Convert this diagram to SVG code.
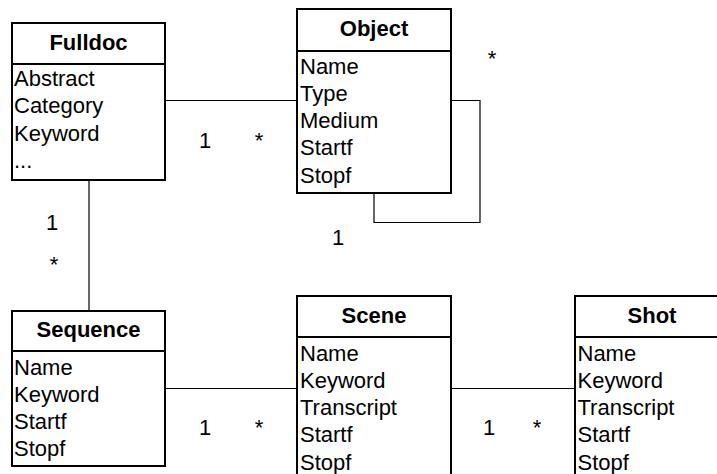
<svg xmlns="http://www.w3.org/2000/svg" width="717" height="474" viewBox="0 0 717 474">
  <style>
    .box { fill: #ffffff; stroke: #000000; stroke-width: 2; }
    .div { stroke: #000000; stroke-width: 2; }
    .title { font-family: "Liberation Sans", Arial, sans-serif; font-size: 22px; font-weight: bold; text-anchor: middle; fill: #000000; }
    .attr { font-family: "Liberation Sans", Arial, sans-serif; font-size: 22px; fill: #000000; }
    .mult { font-family: "Liberation Sans", Arial, sans-serif; font-size: 22px; fill: #000000; text-anchor: middle; }
    .conn { fill: none; stroke: #000000; stroke-width: 1.2; }
  </style>

  <rect width="717" height="474" fill="#ffffff"/>

  <!-- associations -->
  <g id="connectors">
    <line class="conn" x1="165" y1="100.5" x2="297" y2="100.5"/>
    <polyline class="conn" points="451,100.5 480,100.5 480,222.5 374,222.5 374,193"/>
    <line class="conn" x1="89" y1="180" x2="89" y2="311"/>
    <line class="conn" x1="165" y1="388.5" x2="297" y2="388.5"/>
    <line class="conn" x1="451" y1="388.5" x2="575" y2="388.5"/>

    <text class="mult" x="205" y="148">1</text>
    <text class="mult" x="259" y="148">*</text>
    <text class="mult" x="492" y="66">*</text>
    <text class="mult" x="338" y="245">1</text>
    <text class="mult" x="52" y="230">1</text>
    <text class="mult" x="54" y="272">*</text>
    <text class="mult" x="205" y="435">1</text>
    <text class="mult" x="259" y="435">*</text>
    <text class="mult" x="489" y="435">1</text>
    <text class="mult" x="537" y="435">*</text>
  </g>

  <g id="fulldoc">
    <rect class="box" x="12" y="23" width="153" height="157"/>
    <line class="div" x1="12" y1="64" x2="165" y2="64"/>
    <text class="title" x="88.5" y="50">Fulldoc</text>
    <text class="attr" x="14" y="86">Abstract</text>
    <text class="attr" x="14" y="113.3">Category</text>
    <text class="attr" x="14" y="140.6">Keyword</text>
    <text class="attr" x="14" y="168">...</text>
  </g>

  <g id="object">
    <rect class="box" x="297" y="9" width="154" height="184"/>
    <line class="div" x1="297" y1="51" x2="451" y2="51"/>
    <text class="title" x="374" y="36">Object</text>
    <text class="attr" x="300" y="73.5">Name</text>
    <text class="attr" x="300" y="100.8">Type</text>
    <text class="attr" x="300" y="128.1">Medium</text>
    <text class="attr" x="300" y="155.4">Startf</text>
    <text class="attr" x="300" y="182.7">Stopf</text>
  </g>

  <g id="sequence">
    <rect class="box" x="12" y="311" width="153" height="155"/>
    <line class="div" x1="12" y1="351" x2="165" y2="351"/>
    <text class="title" x="88.5" y="337.3">Sequence</text>
    <text class="attr" x="14" y="374.5">Name</text>
    <text class="attr" x="14" y="401.8">Keyword</text>
    <text class="attr" x="14" y="429.1">Startf</text>
    <text class="attr" x="14" y="456.4">Stopf</text>
  </g>

  <g id="scene">
    <rect class="box" x="297" y="296" width="154" height="200"/>
    <line class="div" x1="297" y1="337" x2="451" y2="337"/>
    <text class="title" x="374" y="323.3">Scene</text>
    <text class="attr" x="300" y="360.5">Name</text>
    <text class="attr" x="300" y="387.8">Keyword</text>
    <text class="attr" x="300" y="415.1">Transcript</text>
    <text class="attr" x="300" y="442.4">Startf</text>
    <text class="attr" x="300" y="469.7">Stopf</text>
  </g>

  <g id="shot">
    <rect class="box" x="575" y="296" width="154" height="200"/>
    <line class="div" x1="575" y1="337" x2="729" y2="337"/>
    <text class="title" x="652" y="323.3">Shot</text>
    <text class="attr" x="577.5" y="360.5">Name</text>
    <text class="attr" x="577.5" y="387.8">Keyword</text>
    <text class="attr" x="577.5" y="415.1">Transcript</text>
    <text class="attr" x="577.5" y="442.4">Startf</text>
    <text class="attr" x="577.5" y="469.7">Stopf</text>
  </g>
</svg>
